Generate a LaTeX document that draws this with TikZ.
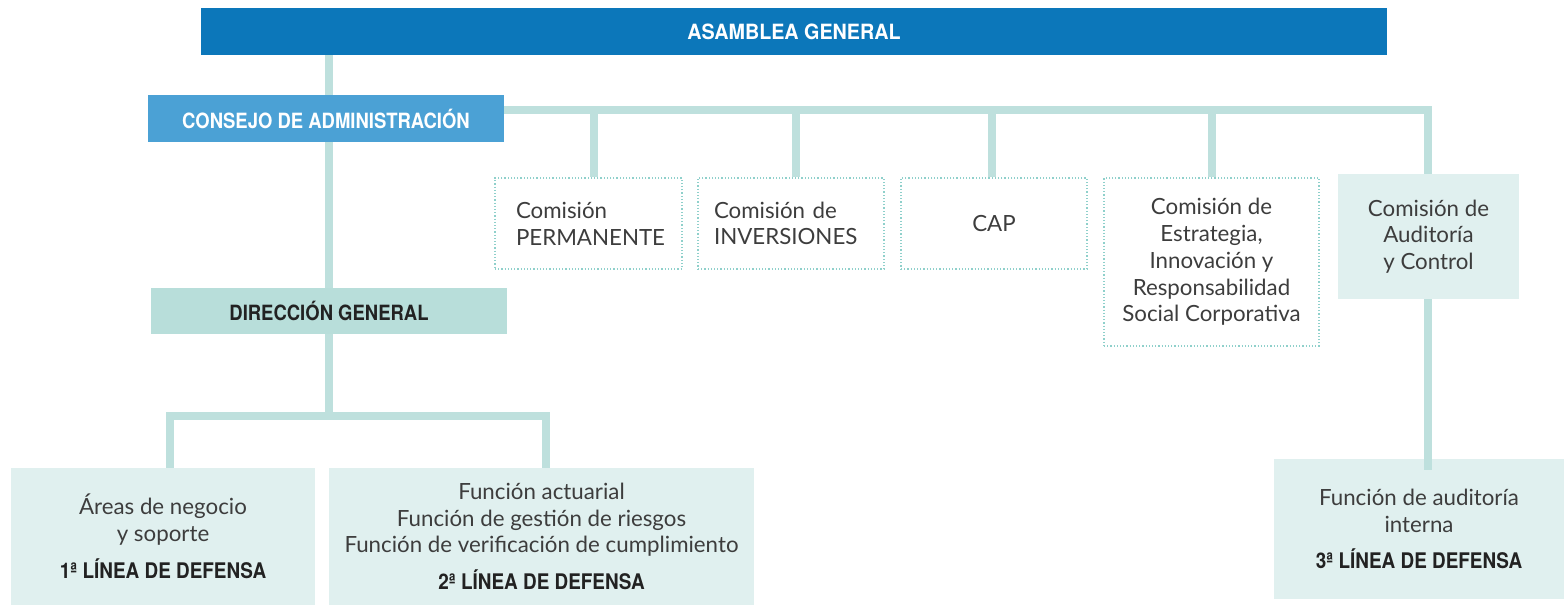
\documentclass[tikz,border=0pt]{standalone}
\usepackage{fontspec}
\setmainfont{Lato}
\newfontfamily\cond[FakeStretch=0.88]{TeX Gyre Heros}
\newfontfamily\condw[FakeStretch=0.94]{TeX Gyre Heros}
\usetikzlibrary{backgrounds}
\definecolor{cDark}{HTML}{0C77BA}
\definecolor{cMid}{HTML}{4BA1D5}
\definecolor{cDir}{HTML}{B8DEDA}
\definecolor{cPale}{HTML}{E0F0EF}
\definecolor{cLine}{HTML}{BEE0DD}
\definecolor{cDot}{HTML}{8FD0CB}
\definecolor{cText}{HTML}{3D3D3D}
\definecolor{cBold}{HTML}{222222}
\tikzset{
  box/.style={rectangle, inner sep=0pt, text=cText, font=\fontsize{22.3}{26.75}\selectfont, align=center},
  hdr/.style={box, font=\cond\bfseries\fontsize{21}{24}\selectfont, text=white},
  combox/.style={box, draw=cDot, line width=1.2pt, dotted},
  palebox/.style={box, fill=cPale},
  conn/.style={draw=cLine, line width=8pt},
}
\newcommand{\lname}[1]{{\cond\bfseries\fontsize{21.5}{24}\selectfont\color{cBold}#1}}
\begin{document}
\begin{tikzpicture}[x=1pt,y=-1pt]
\useasboundingbox (0,0) rectangle (1564,605);
% header boxes
\node[hdr, font=\condw\bfseries\fontsize{21}{24}\selectfont, fill=cDark, minimum width=1186pt, minimum height=47pt] (asm) at (794,31.5) {ASAMBLEA GENERAL};
\node[hdr, fill=cMid, minimum width=356pt, minimum height=47pt] (cons) at (326,118.5) {CONSEJO DE ADMINISTRACIÓN};
\node[hdr, fill=cDir, text=cBold, minimum width=356pt, minimum height=46pt] (dir) at (329,311) {DIRECCIÓN GENERAL};
% commissions
\node[combox, minimum width=187pt, minimum height=91pt, text width=145pt, align=left, inner xsep=21pt] (perm) at (588.5,223.5) {Comisión\\PERMANENTE};
\node[combox, minimum width=186pt, minimum height=91pt, text width=154pt, align=left, inner xsep=16pt] (inv) at (791,223.5) {Comisión de\\INVERSIONES};
\node[combox, minimum width=186pt, minimum height=91pt] (cap) at (994,223.5) {CAP};
\node[combox, minimum width=215pt, minimum height=168pt] (est) at (1211.5,262) {Comisión de\\Estrategia,\\Innovación y\\Responsabilidad\\Social Corporativa};
\node[palebox, minimum width=181pt, minimum height=125pt] (aud) at (1428.5,236.5) {Comisión de\\Auditoría\\y Control};
% lines of defence
\node[palebox, minimum width=304pt, minimum height=137pt] (l1) at (163,536.5) {Áreas de negocio\\y soporte\\[10pt]\lname{1ª LÍNEA DE DEFENSA}};
\node[palebox, minimum width=425pt, minimum height=137pt] (l2) at (541.5,536.5) {Función actuarial\\Función de gestión de riesgos\\Función de verificación de cumplimiento\\[10pt]\lname{2ª LÍNEA DE DEFENSA}};
\node[palebox, minimum width=290pt, minimum height=140pt] (l3) at (1419,529) {Función de auditoría\\interna\\[10pt]\lname{3ª LÍNEA DE DEFENSA}};
% connectors
\coordinate (bus) at (1428,110);
\coordinate (dbus) at (329,416);
\begin{scope}[on background layer]
\draw[conn] (asm.south -| dir.north) -- (dir.north);
\draw[conn] (cons.east |- bus) -- (bus) -- (aud.north -| bus);
\draw[conn] ([xshift=5pt]perm.north |- bus) -- ([xshift=5pt]perm.north);
\draw[conn] ([xshift=5pt]inv.north |- bus) -- ([xshift=5pt]inv.north);
\draw[conn] ([xshift=-2pt]cap.north |- bus) -- ([xshift=-2pt]cap.north);
\draw[conn] (est.north |- bus) -- (est.north);
\draw[conn] (dir.south) -- (dbus);
\draw[conn] ([xshift=7pt]l1.north) -- ([xshift=7pt]l1.north |- dbus) -- ([xshift=4.5pt]l2.north |- dbus) -- ([xshift=4.5pt]l2.north);
\end{scope}
\draw[conn] (aud.south -| bus) -- ([yshift=-11pt]l3.north -| bus);
\end{tikzpicture}
\end{document}
